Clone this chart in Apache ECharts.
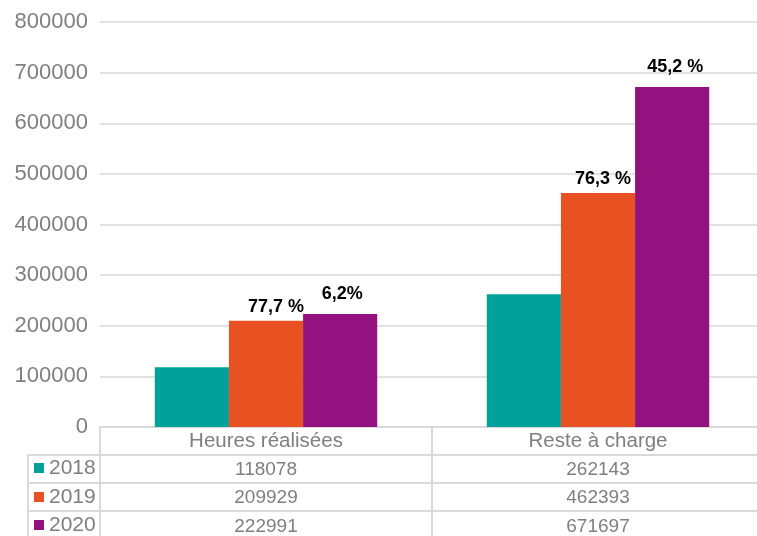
<!DOCTYPE html>
<html>
<head>
<meta charset="utf-8">
<script src="https://cdn.jsdelivr.net/npm/echarts@6/dist/echarts.min.js"></script>
<style>
  html, body { margin: 0; padding: 0; background: #fff; }
  #chart { width: 757px; height: 536px; }
</style>
</head>
<body>
<div id="chart"></div>
<script>
// Categories and yearly values
const categories = ['Heures réalisées', 'Reste à charge'];
const years = ['2018', '2019', '2020'];
const values2018 = [118078, 262143];
const values2019 = [209929, 462393];
const values2020 = [222991, 671697];
// Year-over-year change shown above the bars
const change2019 = ['77,7 %', '76,3 %'];
const change2020 = ['6,2%', '45,2 %'];

const colors = ['#00A199', '#E85222', '#93127F'];
const gridColor = '#d9d9d9';
const textGrey = '#7f7f7f';
const sans = '"Liberation Sans", Arial, sans-serif';

const chart = echarts.init(document.getElementById('chart'), null, { renderer: 'canvas' });

const pctLabel = (texts, dist) => ({
  show: true,
  position: 'top',
  distance: dist,
  color: '#000',
  fontFamily: sans,
  fontWeight: 'bold',
  fontSize: 18,
  formatter: p => texts[p.dataIndex]
});

// horizontal nudges for individual change labels
const labelShift2019 = [10, 5];
const labelShift2020 = [2, 3];
const withShift = (vals, shifts) =>
  vals.map((v, i) => ({ value: v, label: { offset: [shifts[i], 0] } }));

// one legend block per table row, so each year sits beside its own row
const rowCenters = [468, 497, 525];
const legends = years.map((y, i) => ({
  orient: 'vertical',
  left: 34,
  top: rowCenters[i] - 12,
  padding: 0,
  itemWidth: 10,
  itemHeight: 10,
  icon: 'rect',
  data: [y],
  selectedMode: false,
  textStyle: { color: textGrey, fontFamily: sans, fontSize: 21, lineHeight: 24 }
}));

const tableLine = (x1, y1, x2, y2) => ({
  type: 'line',
  shape: { x1, y1, x2, y2 },
  style: { stroke: gridColor, lineWidth: 2 }
});

chart.setOption({
  animation: false,
  color: colors,
  grid: { left: 100, width: 664, top: 22, bottom: 109, containLabel: false, outerBoundsMode: 'none' },
  legend: legends,
  xAxis: {
    type: 'category',
    data: categories,
    axisLine: { lineStyle: { color: gridColor, width: 2 } },
    axisTick: { show: true, interval: 0, length: 115, lineStyle: { color: gridColor, width: 2 } },
    axisLabel: {
      interval: 0,
      margin: 0,
      color: textGrey,
      fontFamily: sans,
      fontSize: 19,
      lineHeight: 28.5,
      formatter: (v, i) => ['{h|' + v + '}', values2018[i], values2019[i], values2020[i]].join('\n'),
      rich: {
        h: { fontSize: 20.5, fontFamily: sans, color: textGrey, lineHeight: 28.5 }
      }
    }
  },
  yAxis: {
    type: 'value',
    min: 0,
    max: 800000,
    interval: 100000,
    axisLine: { show: false },
    axisTick: { show: false },
    axisLabel: { color: textGrey, fontFamily: sans, fontSize: 22, margin: 12, formatter: v => String(v) },
    splitLine: { lineStyle: { color: gridColor, width: 1.5 } }
  },
  series: [
    { name: '2018', type: 'bar', data: values2018, barGap: '0%', barCategoryGap: '33%' },
    { name: '2019', type: 'bar', data: withShift(values2019, labelShift2019), label: pctLabel(change2019, 5) },
    { name: '2020', type: 'bar', data: withShift(values2020, labelShift2020), label: pctLabel(change2020, 11) }
  ],
  graphic: [
    // data table: row separators and left border
    tableLine(28, 455, 757, 455),
    tableLine(28, 483, 757, 483),
    tableLine(28, 511, 757, 511),
    tableLine(28, 455, 28, 536)
  ]
});
</script>
</body>
</html>
